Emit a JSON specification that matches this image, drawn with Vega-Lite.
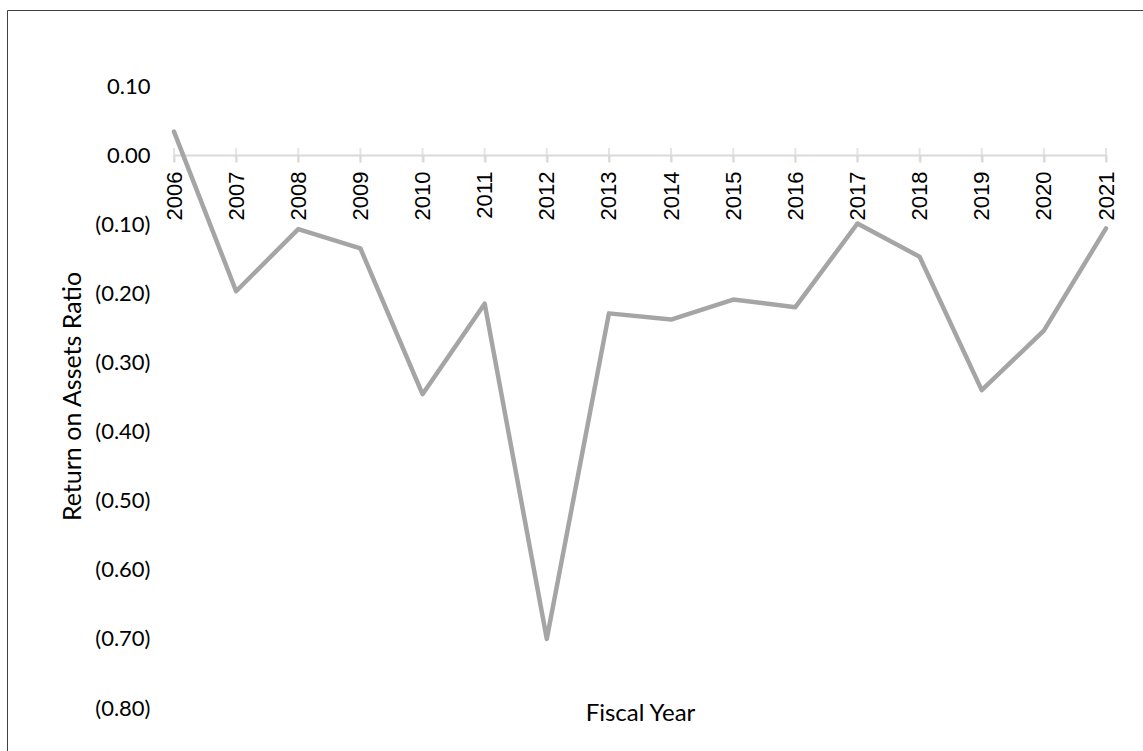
{
  "$schema": "https://vega.github.io/schema/vega-lite/v6.json",
  "autosize": "none",
  "padding": {"left": 7, "top": 10, "right": 0, "bottom": 0},
  "width": 1150,
  "height": 760,
  "background": "white",
  "config": {
    "view": {"stroke": "#404040", "strokeWidth": 1}
  },
  "data": {
    "values": [
      {"year": "2006", "roa": 0.034},
      {"year": "2007", "roa": -0.197},
      {"year": "2008", "roa": -0.107},
      {"year": "2009", "roa": -0.135},
      {"year": "2010", "roa": -0.346},
      {"year": "2011", "roa": -0.215},
      {"year": "2012", "roa": -0.700},
      {"year": "2013", "roa": -0.229},
      {"year": "2014", "roa": -0.238},
      {"year": "2015", "roa": -0.209},
      {"year": "2016", "roa": -0.220},
      {"year": "2017", "roa": -0.099},
      {"year": "2018", "roa": -0.147},
      {"year": "2019", "roa": -0.340},
      {"year": "2020", "roa": -0.254},
      {"year": "2021", "roa": -0.106}
    ]
  },
  "encoding": {
    "x": {
      "field": "year",
      "type": "ordinal",
      "scale": {"type": "point", "range": [167, 1099], "padding": 0},
      "axis": {
        "orient": "bottom",
        "offset": -615,
        "title": "Fiscal Year",
        "titleFont": "Lato",
        "titleFontSize": 24,
        "titleFontWeight": "normal",
        "titleColor": "#000000",
        "titleY": 565,
        "titleBaseline": "alphabetic",
        "labelAngle": -90,
        "labelFont": "Liberation Sans",
        "labelFontSize": 22,
        "labelColor": "#000000",
        "labelPadding": 9,
        "tickSize": 7,
        "tickWidth": 2,
        "tickColor": "#d9d9d9",
        "domainColor": "#d9d9d9",
        "domainWidth": 2,
        "grid": false
      }
    }
  },
  "layer": [
    {
      "mark": {"type": "tick", "orient": "vertical", "size": 14, "thickness": 2, "color": "#d9d9d9"},
      "encoding": {
        "y": {"datum": 0, "type": "quantitative"}
      }
    },
    {
      "mark": {"type": "line", "color": "#a5a5a5", "strokeWidth": 4.5, "strokeCap": "round", "strokeJoin": "round"},
      "encoding": {
        "y": {
          "field": "roa",
          "type": "quantitative",
          "scale": {"domain": [-0.8, 0.1], "range": [698, 76], "nice": false, "zero": false},
          "axis": {
            "orient": "left",
            "offset": -167,
            "values": [-0.8, -0.7, -0.6, -0.5, -0.4, -0.3, -0.2, -0.1, 0, 0.1],
            "labelExpr": "datum.value < -0.0001 ? '(' + format(-datum.value, '.2f') + ')' : format(abs(datum.value), '.2f') + '\u00a0'",
            "labelFont": "Lato",
            "labelFontSize": 22,
            "labelColor": "#000000",
            "labelPadding": 24,
            "ticks": false,
            "domain": false,
            "grid": false,
            "title": "Return on Assets Ratio",
            "titleFont": "Lato",
            "titleFontSize": 25,
            "titleFontWeight": "normal",
            "titleColor": "#000000",
            "titleX": -102,
            "titleY": 386,
            "titleBaseline": "middle"
          }
        }
      }
    }
  ]
}
